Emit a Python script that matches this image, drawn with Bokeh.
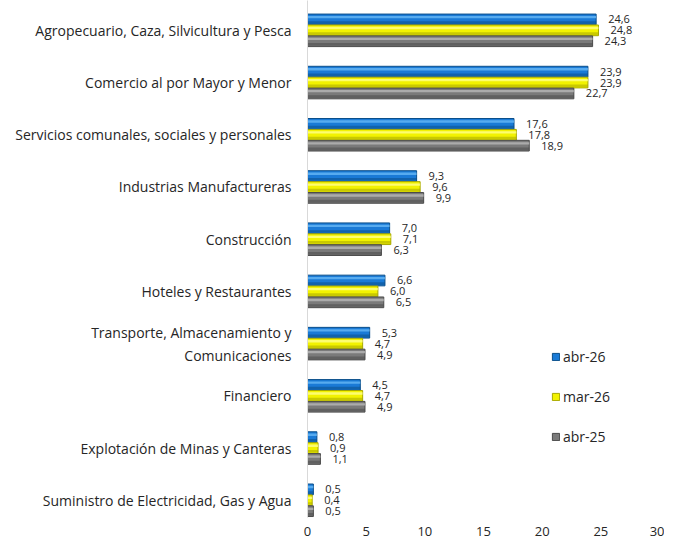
from bokeh.plotting import figure
from bokeh.models import Range1d, FixedTicker, Legend, LegendItem, ColumnDataSource
from bokeh.core.properties import value
from bokeh.embed import file_html
from bokeh.resources import INLINE

categories = [
    "Agropecuario, Caza, Silvicultura y Pesca",
    "Comercio al por Mayor y Menor",
    "Servicios comunales, sociales y personales",
    "Industrias Manufactureras",
    "Construcción",
    "Hoteles y Restaurantes",
    "Transporte, Almacenamiento y\nComunicaciones",
    "Financiero",
    "Explotación de Minas y Canteras",
    "Suministro de Electricidad, Gas y Agua",
]
series_names = ["abr-26", "mar-26", "abr-25"]
abr26 = [24.6, 23.9, 17.6, 9.3, 7.0, 6.6, 5.3, 4.5, 0.8, 0.5]
mar26 = [24.8, 23.9, 17.8, 9.6, 7.1, 6.0, 4.7, 4.7, 0.9, 0.4]
abr25 = [24.3, 22.7, 18.9, 9.9, 6.3, 6.5, 4.9, 4.9, 1.1, 0.5]
x_ticks = [0, 5, 10, 15, 20, 25, 30]

FONT = "Open Sans"
n = len(categories)
ypos = [n - 1 - i for i in range(n)]

p = figure(width=664, height=538, output_backend="svg", toolbar_location=None,
           x_range=Range1d(0, 30), y_range=Range1d(-0.33, n - 1 + 30 / 52.5),
           min_border_left=307, min_border_right=5, min_border_top=0, min_border_bottom=18)
p.outline_line_color = None
p.grid.visible = False

# colors: (dark edge, base, highlight)
styles = [
    ("#0b4f8a", "#1a7ad6", "#66b8f5"),
    ("#a8a800", "#f2f200", "#ffff8c"),
    ("#4a4a4a", "#7a7a7a", "#b8b8b8"),
]
offsets = [0.209, 0.0, -0.209]
h = 0.205
data = [abr26, mar26, abr25]
legend_items = []
for vals, name, (dark, base, light), off in zip(data, series_names, styles, offsets):
    ys = [y + off for y in ypos]
    src = ColumnDataSource(dict(y=ys, right=vals,
                                lbl=[f"{v:.1f}".replace(".", ",") for v in vals]))
    r = p.hbar(y="y", right="right", left=0, height=h, source=src,
               fill_color=base, line_color=dark, line_width=1)
    # stripes for a 3D look
    p.hbar(y=[y + h * 0.22 for y in ys], right=vals, left=0, height=h * 0.22,
           fill_color=light, line_color=None, fill_alpha=0.8)
    p.hbar(y=[y - h * 0.3 for y in ys], right=vals, left=0, height=h * 0.25,
           fill_color=dark, line_color=None, fill_alpha=0.55)
    p.text(x="right", y="y", text="lbl", source=src, x_offset=12,
           text_align="left", text_baseline="middle", text_font=value(FONT),
           text_font_size="11px", text_color="#262626")
    legend_items.append(LegendItem(label=name, renderers=[r]))

yaxis = p.yaxis[0]
yaxis.ticker = FixedTicker(ticks=ypos)
yaxis.major_label_overrides = {y: c for y, c in zip(ypos, categories)}
yaxis.major_tick_line_color = None
yaxis.minor_tick_line_color = None
yaxis.axis_line_color = "#d9d9d9"
yaxis.major_label_text_font = FONT
yaxis.major_label_text_font_size = "14px"
yaxis.major_label_text_color = "#262626"
yaxis.major_label_standoff = 10

xaxis = p.xaxis[0]
xaxis.ticker = FixedTicker(ticks=x_ticks)
xaxis.axis_line_color = None
xaxis.major_tick_line_color = None
xaxis.minor_tick_line_color = None
xaxis.major_label_text_font = FONT
xaxis.major_label_text_font_size = "13px"
xaxis.major_label_text_color = "#262626"
xaxis.major_label_standoff = 3

legend = Legend(items=legend_items, location=(244, 71), orientation="vertical",
                glyph_width=9, glyph_height=9, spacing=21, label_height=16,
                label_text_font=FONT, label_text_font_size="14px",
                label_text_color="#262626", border_line_color=None,
                background_fill_alpha=0, padding=4, margin=0, label_standoff=3)
p.add_layout(legend)

open("out.html", "w").write(file_html(p, INLINE))
